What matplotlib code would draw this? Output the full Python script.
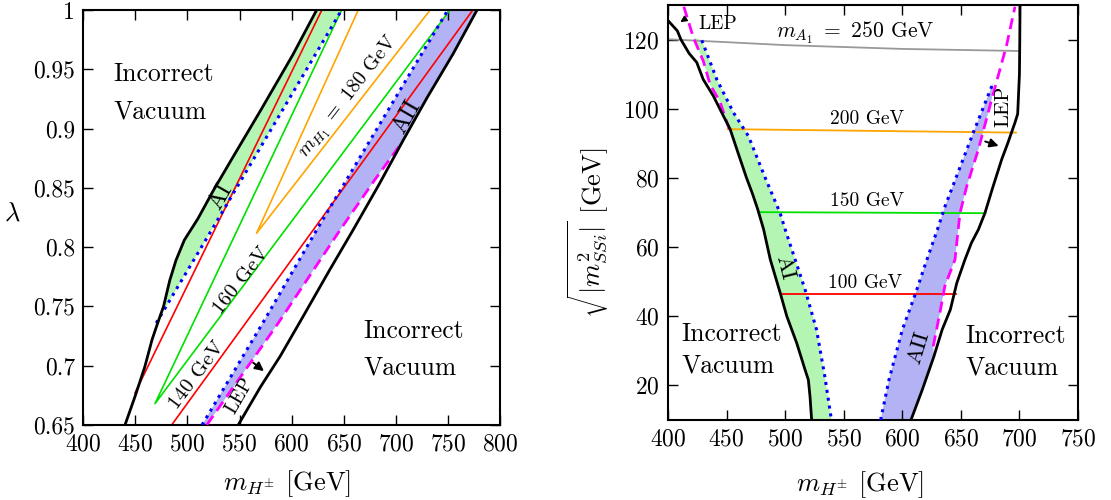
import numpy as np
import matplotlib
matplotlib.use('Agg')
import matplotlib.pyplot as plt

plt.rcParams['font.family'] = 'serif'
plt.rcParams['font.serif'] = ['cmr10']
plt.rcParams['mathtext.fontset'] = 'cm'
plt.rcParams['axes.formatter.use_mathtext'] = True

# ---------------- left panel: lambda vs m_H+- ----------------
lam_xticks = [400, 450, 500, 550, 600, 650, 700, 750, 800]
lam_yticks = [0.65, 0.7, 0.75, 0.8, 0.85, 0.9, 0.95, 1.0]
lam_ylabels = ['0.65', '0.7', '0.75', '0.8', '0.85', '0.9', '0.95', '1']

# vacuum boundaries
bl_mh = [440, 450, 459, 466, 471, 477, 483, 489, 497, 510, 525, 542, 570, 601, 624]
bl_lam = [0.650, 0.675, 0.699, 0.722, 0.735, 0.750, 0.772, 0.789, 0.806, 0.824, 0.848, 0.8735, 0.915, 0.962, 1.0]
br_mh = [548.7, 570, 589, 610, 636, 659, 684, 707, 730, 755, 778]
br_lam = [0.65, 0.682, 0.708, 0.74, 0.78, 0.8145, 0.853, 0.890, 0.926, 0.963, 1.0]

# blue dotted edges of the AI / AII bands
dotl_mh = [470, 531, 648]
dotl_lam = [0.736, 0.826, 1.0]
dotr_mh = [514, 574, 624, 750]
dotr_lam = [0.65, 0.7386, 0.8145, 1.0]

# LEP bound
lep_mh = [518.5, 587, 646.5, 680, 704]
lep_lam = [0.65, 0.7358, 0.8145, 0.857, 0.886]

# m_H1 contours
red_a_mh, red_a_lam = [449.6, 629], [0.677, 1.0]
red_b_mh, red_b_lam = [484.8, 774], [0.65, 1.0]
grn_mh, grn_lam = [648, 468.8, 752], [1.0, 0.668, 1.0]
org_mh, org_lam = [664, 566.3, 733], [1.0, 0.8117, 1.0]

# ---------------- right panel: sqrt|m^2_SSi| vs m_H+- ----------------
ss_xticks = [400, 450, 500, 550, 600, 650, 700, 750]
ss_yticks = [20, 40, 60, 80, 100, 120]

sbl_mh = [400, 408, 411, 418, 424.5, 430, 438.7, 445.8, 453, 460, 467, 472, 476.5,
          481.6, 487.3, 495.8, 501.4, 509.9, 517, 519.8, 521.2, 522.6]
sbl_m = [125.5, 122.5, 120, 116, 113.4, 108.5, 103.7, 98.9, 94.1, 87, 80, 75.5, 71,
         65.1, 56.4, 46.7, 40, 32.2, 24.5, 21.6, 16.8, 10]
sbr_mh = [607.4, 617, 627, 634, 641, 646.5, 653.5, 659, 665, 670.6, 677, 684.9, 690, 696.2,
          698.5, 700, 700.3, 700.5]
sbr_m = [10, 18.7, 28.4, 36.1, 41.9, 49.6, 56.4, 61.2, 65.1, 69.9, 77, 85.4, 90, 96,
         98.5, 110, 120, 129.5]

sdotl_mh = [428.8, 441.6, 455.8, 468.6, 483, 495.6, 500, 517, 526.8, 533.9, 539.5]
sdotl_m = [119.8, 108.5, 98.9, 92.1, 80, 69.9, 65.1, 47.7, 36.1, 22.5, 10]
sdotr_mh = [581.5, 588.6, 600, 611.4, 620, 630, 636.5, 660.6, 677.7]
sdotr_m = [10, 21.6, 36.1, 46.7, 55.4, 65.1, 71.8, 93.1, 107.6]

slepl_mh = [413.5, 421.6, 430.1, 435.9, 444.4, 450.1, 453]
slepl_m = [129.5, 120.6, 113.8, 107, 102, 96.2, 93.5]
slepr_mh = [626.4, 629.2, 632.1, 636.3, 645, 647.7, 649.3, 655, 665, 676.3, 689, 696.2]
slepr_m = [31.3, 36.1, 41, 48.7, 56.4, 65.1, 69.9, 77.6, 88.3, 102.7, 118.3, 129.5]

# m_A1 contours
a250_mh, a250_m = [400, 500, 600, 700], [120.1, 118.4, 117.3, 116.7]
a200_mh, a200_m = [451, 697], [94.1, 93.1]
a150_mh, a150_m = [477, 671], [70.1, 69.8]
a100_mh, a100_m = [497, 646], [46.5, 46.5]

GREEN_FILL = '#b4f5b4'
BLUE_FILL = '#b2b2f5'
DOT = (0, (1, 1.6))
DASH = (0, (4, 2.2))
ARROW = dict(arrowstyle='-|>', color='black', lw=1.4, mutation_scale=13)

fig = plt.figure(figsize=(11.11, 5), dpi=100)
ax1 = fig.add_axes([0.075, 0.15, 0.375, 0.83])
ax2 = fig.add_axes([0.6013, 0.16, 0.369, 0.83])

# ---- left ----
ax = ax1
# AI band: between left boundary and dotted line
ai_x = bl_mh[4:] + dotl_mh[::-1]
ai_y = bl_lam[4:] + dotl_lam[::-1]
ax.fill(ai_x, ai_y, color=GREEN_FILL, lw=0, zorder=1)
# AII band: dotted line to LEP bound / right boundary
aii_x = dotr_mh + br_mh[::-1][:4] + lep_mh[::-1]
aii_y = dotr_lam + br_lam[::-1][:4] + lep_lam[::-1]
ax.fill(aii_x, aii_y, color=BLUE_FILL, lw=0, zorder=1)

ax.plot(red_a_mh, red_a_lam, color='red', lw=1.2, zorder=2)
ax.plot(red_b_mh, red_b_lam, color='red', lw=1.2, zorder=2)
ax.plot(grn_mh, grn_lam, color='#00e000', lw=1.2, zorder=2)
ax.plot(org_mh, org_lam, color='orange', lw=1.2, zorder=2)
ax.plot(dotl_mh, dotl_lam, color='blue', lw=2.2, ls=DOT, zorder=3)
ax.plot(dotr_mh, dotr_lam, color='blue', lw=2.2, ls=DOT, zorder=3)
ax.plot(lep_mh, lep_lam, color='magenta', lw=2.0, ls=DASH, zorder=3)
ax.plot(bl_mh, bl_lam, color='black', lw=2.0, zorder=4)
ax.plot(br_mh, br_lam, color='black', lw=2.0, zorder=4)

ax.annotate('', xy=(575.5, 0.694), xytext=(561, 0.704), arrowprops=ARROW)

ax.text(428.8, 0.93, 'Incorrect\nVacuum', fontsize=18.5, ha='left', va='center', linespacing=1.7)
ax.text(668.6, 0.714, 'Incorrect\nVacuum', fontsize=18.5, ha='left', va='center', linespacing=1.7)
ax.text(532, 0.8425, 'AI', fontsize=17, rotation=60, ha='center', va='center')
ax.text(710.4, 0.910, 'AII', fontsize=17, rotation=60, ha='center', va='center')
ax.text(655, 0.927, r'$m_{H_1}\ =\ 180$ GeV', fontsize=14.5, rotation=52, ha='center', va='center')
ax.text(552, 0.772, '160 GeV', fontsize=15, rotation=52, ha='center', va='center')
ax.text(508.8, 0.692, '140 GeV', fontsize=15, rotation=53, ha='center', va='center')
ax.text(550.3, 0.675, 'LEP', fontsize=14, rotation=60, ha='center', va='center')

ax.set_xlim(400, 800)
ax.set_ylim(0.65, 1.0)
ax.set_xticks(lam_xticks)
ax.set_yticks(lam_yticks)
ax.set_yticklabels(lam_ylabels)
ax.set_xlabel(r'$m_{H^{\pm}}$ [GeV]', fontsize=19)
ax.set_ylabel(r'$\lambda$', fontsize=19, rotation=0, va='center')
ax.xaxis.set_label_coords(0.49, -0.105)
ax.yaxis.set_label_coords(-0.17, 0.51)

# ---- right ----
ax = ax2
gi = sbl_m.index(94.1)
ai2_x = slepl_mh[1:] + sbl_mh[gi:] + sdotl_mh[::-1]
ai2_y = slepl_m[1:] + sbl_m[gi:] + sdotl_m[::-1]
ax.fill(ai2_x, ai2_y, color=GREEN_FILL, lw=0, zorder=1)
top = [i for i, m in enumerate(slepr_m) if m <= 107.6]
aii2_x = sdotr_mh + [slepr_mh[i] for i in top][::-1] + sbr_mh[:3][::-1]
aii2_y = sdotr_m + [slepr_m[i] for i in top][::-1] + sbr_m[:3][::-1]
ax.fill(aii2_x, aii2_y, color=BLUE_FILL, lw=0, zorder=1)

ax.plot(a250_mh, a250_m, color='#999999', lw=1.3, zorder=2)
ax.plot(a200_mh, a200_m, color='orange', lw=1.3, zorder=2)
ax.plot(a150_mh, a150_m, color='#00e000', lw=1.3, zorder=2)
ax.plot(a100_mh, a100_m, color='red', lw=1.3, zorder=2)
ax.plot(sdotl_mh, sdotl_m, color='blue', lw=2.2, ls=DOT, zorder=3)
ax.plot(sdotr_mh, sdotr_m, color='blue', lw=2.2, ls=DOT, zorder=3)
ax.plot(slepl_mh, slepl_m, color='magenta', lw=2.0, ls=DASH, zorder=3)
ax.plot(slepr_mh, slepr_m, color='magenta', lw=2.0, ls=DASH, zorder=3)
ax.plot(sbl_mh, sbl_m, color='black', lw=2.0, zorder=4)
ax.plot(sbr_mh, sbr_m, color='black', lw=2.0, zorder=4)

ax.annotate('', xy=(408.5, 124.6), xytext=(416.5, 126.4),
            arrowprops=dict(arrowstyle='-|>', color='black', lw=1.1, mutation_scale=9))
ax.annotate('', xy=(684.5, 89.0), xytext=(668.5, 90.8), arrowprops=ARROW)

ax.text(425.6, 124.6, 'LEP', fontsize=14, ha='left', va='center')
ax.text(686, 100.8, 'LEP', fontsize=15, rotation=90, ha='center', va='center')
ax.text(559.6, 122.0, r'$m_{A_1}\ =\ 250$ GeV', fontsize=15.5, ha='center', va='center')
ax.text(569.6, 97.0, '200 GeV', fontsize=14, ha='center', va='center')
ax.text(569.6, 73.3, '150 GeV', fontsize=14, ha='center', va='center')
ax.text(568, 49.6, '100 GeV', fontsize=14, ha='center', va='center')
ax.text(499.5, 54.2, 'AI', fontsize=16, rotation=-76, ha='center', va='center')
ax.text(614, 30.8, 'AII', fontsize=16, rotation=73, ha='center', va='center')
ax.text(411.6, 30.3, 'Incorrect\nVacuum', fontsize=18.5, ha='left', va='center', linespacing=1.4)
ax.text(653.5, 29.8, 'Incorrect\nVacuum', fontsize=18.5, ha='left', va='center', linespacing=1.4)

ax.set_xlim(400, 750)
ax.set_ylim(10, 130)
ax.set_xticks(ss_xticks)
ax.set_yticks(ss_yticks)
ax.set_xlabel(r'$m_{H^{\pm}}$ [GeV]', fontsize=19)
ax.set_ylabel(r'$\sqrt{|m^2_{SSi}|}$ [GeV]', fontsize=19)
ax.xaxis.set_label_coords(0.468, -0.118)
ax.yaxis.set_label_coords(-0.14, 0.45)

for a in (ax1, ax2):
    a.tick_params(direction='in', top=True, right=True, length=7, width=1.0, labelsize=17, pad=6)
    for s in a.spines.values():
        s.set_linewidth(1.5)

fig.savefig('out.png', dpi=100)
